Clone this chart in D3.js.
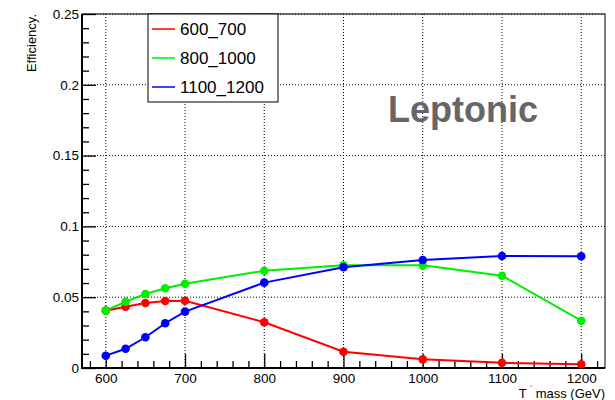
<!DOCTYPE html>
<html>
<head>
<meta charset="utf-8">
<script src="https://cdn.jsdelivr.net/npm/d3@7"></script>
<style>
  body{margin:0;background:#fff;}
  text{font-family:"Liberation Sans",Arial,Helvetica,sans-serif;}
</style>
</head>
<body>
<svg class="graph"></svg>
<script>
// T mass points (GeV)
let masses=[600,625,650,675,700,800,900,1000,1100,1200]
let seriesNames=['600_700','800_1000','1100_1200']
let colorscheme=['#ff0000','#00ee00','#0000ff']
let eff600_700=[0.0405,0.0433,0.0459,0.0473,0.0475,0.0323,0.0115,0.0061,0.0037,0.0026]
let eff800_1000=[0.0405,0.0468,0.0523,0.0563,0.0595,0.0687,0.0725,0.0725,0.0652,0.0334]
let eff1100_1200=[0.0087,0.0136,0.0217,0.0316,0.0398,0.0603,0.0711,0.0763,0.0791,0.0789]
let xticksMajor=[600,700,800,900,1000,1100,1200]
let yticksMajor=[0,0.05,0.1,0.15,0.2,0.25]

let width=615,height=400
let frame={left:82,top:14,right:605,bottom:368}
let svg=d3.select('.graph').attr('width',width).attr('height',height)

let seriesData=[eff600_700,eff800_1000,eff1100_1200].map((vals,i)=>({
    name:seriesNames[i],
    values:masses.map((m,j)=>({mass:m,eff:vals[j]}))
}))

let xscale=d3.scaleLinear().domain([570,1230]).range([frame.left,frame.right])
let yscale=d3.scaleLinear().domain([0,0.25]).range([frame.bottom,frame.top])
let linecolor=d3.scaleOrdinal().domain(seriesNames).range(colorscheme)

// grid (dotted, major ticks only)
svg.append('g').attr('class','grid')
   .selectAll('line').data(xticksMajor).join('line')
   .attr('x1',d=>xscale(d)).attr('x2',d=>xscale(d))
   .attr('y1',frame.top).attr('y2',frame.bottom)
   .attr('stroke','#000').attr('stroke-width',1).attr('stroke-dasharray','1,2')
svg.append('g').attr('class','grid')
   .selectAll('line').data(yticksMajor.slice(1)).join('line')
   .attr('x1',frame.left).attr('x2',frame.right)
   .attr('y1',d=>yscale(d)).attr('y2',d=>yscale(d))
   .attr('stroke','#000').attr('stroke-width',1).attr('stroke-dasharray','1,2')

// axes - ROOT style, ticks point inside the frame
let xaxis=svg.append('g').attr('transform',`translate(0,${frame.bottom})`)
   .call(d3.axisTop(xscale).tickValues(d3.range(580,1221,20)).tickFormat('').tickSizeOuter(0))
xaxis.selectAll('.tick line').attr('y2',d=>d%100==0?-14:-7).attr('stroke-width',1.3)
xaxis.select('.domain').remove()
svg.append('g').attr('transform',`translate(0,${frame.bottom})`)
   .call(d3.axisBottom(xscale).tickValues(xticksMajor).tickFormat(d3.format('d')).tickSize(0).tickPadding(5))
   .call(g=>g.select('.domain').remove())
   .selectAll('text').attr('font-size',13.5).attr('fill','#000')
   .style('font-family','"Liberation Sans",Arial,sans-serif')

let yaxis=svg.append('g').attr('transform',`translate(${frame.left},0)`)
   .call(d3.axisRight(yscale).tickValues(d3.range(0,0.2501,0.01)).tickFormat('').tickSizeOuter(0))
yaxis.selectAll('.tick line').attr('x2',(d,i)=>i%5==0?14:7).attr('stroke-width',1.3)
yaxis.select('.domain').remove()
svg.append('g').attr('transform',`translate(${frame.left},0)`)
   .call(d3.axisLeft(yscale).tickValues(yticksMajor).tickFormat(d=>d3.format('~g')(d)).tickSize(0).tickPadding(3))
   .call(g=>g.select('.domain').remove())
   .selectAll('text').attr('font-size',13.5).attr('fill','#000')
   .style('font-family','"Liberation Sans",Arial,sans-serif')

// frame
svg.append('rect')
   .attr('x',frame.left).attr('y',frame.top)
   .attr('width',frame.right-frame.left).attr('height',frame.bottom-frame.top)
   .attr('fill','none').attr('stroke','#000').attr('stroke-width',1)
svg.append('path')
   .attr('d',`M${frame.left},${frame.top}V${frame.bottom}H${frame.right}`)
   .attr('fill','none').attr('stroke','#000').attr('stroke-width',2)

// lines + markers
let line=d3.line().x(d=>xscale(d.mass)).y(d=>yscale(d.eff))
svg.selectAll('.series').data(seriesData).join('path')
   .attr('class','series')
   .attr('d',d=>line(d.values))
   .attr('stroke',d=>linecolor(d.name))
   .attr('stroke-width',2)
   .attr('fill','none')
seriesData.forEach(s=>{
    svg.append('g').selectAll('circle').data(s.values).join('circle')
       .attr('cx',d=>xscale(d.mass)).attr('cy',d=>yscale(d.eff))
       .attr('r',4.3).attr('fill',linecolor(s.name))
})

// legend
let lgd=svg.append('g')
lgd.append('rect').attr('x',148).attr('y',14).attr('width',130).attr('height',88)
   .attr('fill','#fff').attr('stroke','#000').attr('stroke-width',1)
seriesNames.forEach((n,i)=>{
    let yy=29+i*29
    lgd.append('line').attr('x1',152).attr('x2',175).attr('y1',yy).attr('y2',yy)
       .attr('stroke',linecolor(n)).attr('stroke-width',1.5)
    lgd.append('text').attr('x',180).attr('y',yy+6).attr('font-size',17).text(n)
})

// labels
svg.append('text').attr('x',388).attr('y',122)
   .attr('font-size',36).attr('font-weight','bold').attr('fill','#666666')
   .text('Leptonic')

svg.append('text')
   .attr('transform','translate(36,14) rotate(-90)')
   .attr('text-anchor','end').attr('font-size',13).text('Efficiency.')

let xt=svg.append('text').attr('x',605).attr('y',398)
   .attr('text-anchor','end').attr('font-size',13)
xt.append('tspan').text('T ')
xt.append('tspan').attr('font-size',7).attr('dy',-12).text(',')
xt.append('tspan').attr('dy',12).text(' mass (GeV)')
</script>
</body>
</html>
